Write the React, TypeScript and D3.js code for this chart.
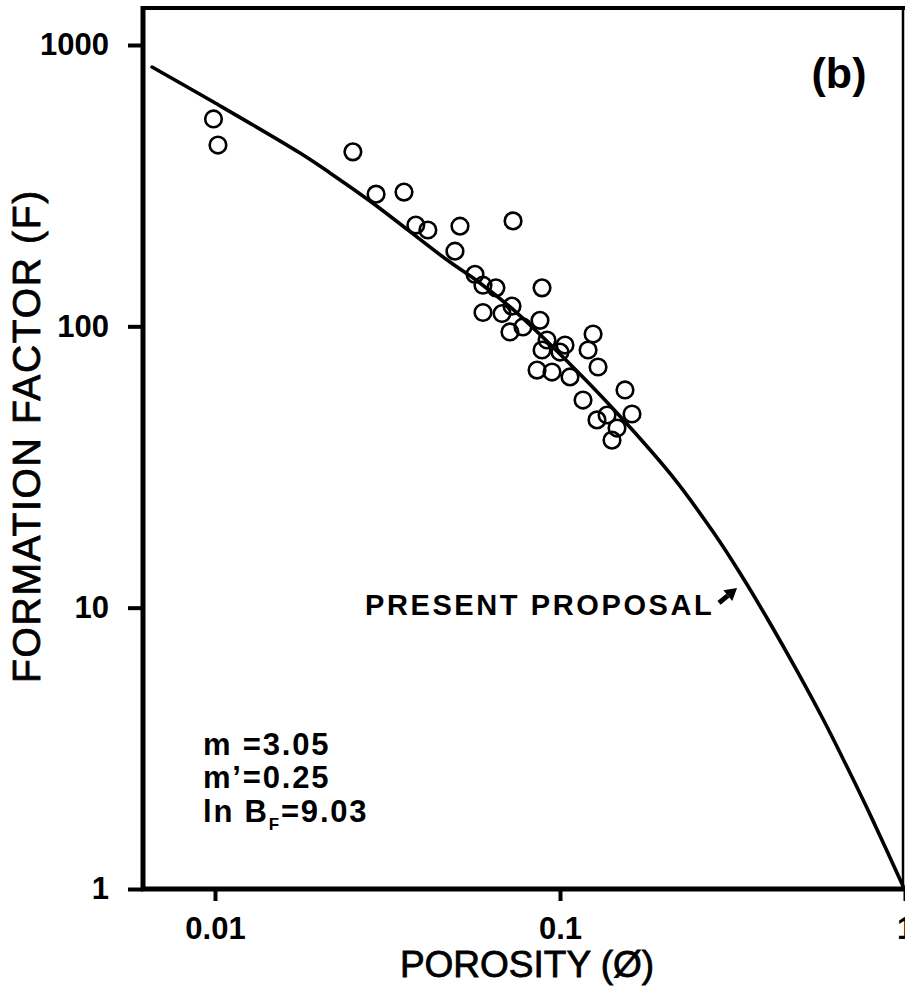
import { useEffect, useRef } from "react";
import * as d3 from "d3";

const samplePorosity = [
  0.0099, 0.0102, 0.0251, 0.0293, 0.0353, 0.0382, 0.0414, 0.0513, 0.0731,
  0.0496, 0.0567, 0.0598, 0.0652, 0.0887, 0.0598, 0.0679, 0.0726, 0.0875,
  0.0716, 0.0781, 0.0917, 0.0887, 0.1034, 0.1, 0.1247, 0.1206, 0.1289,
  0.0858, 0.0948, 0.1069, 0.1166, 0.1543, 0.1617, 0.128, 0.1369, 0.1463,
  0.1415,
];
const sampleFactor = [
  546, 441, 417, 295, 300, 229, 220, 227, 237, 185, 153, 140, 137, 137, 112,
  111, 118, 105, 95.5, 99.5, 89.4, 82.4, 85.8, 81, 93.9, 82.4, 71.7, 69.9,
  68.8, 66.1, 54.7, 59.4, 48.8, 46.5, 48.4, 43.5, 39.4,
];

// "present proposal" curve, points picked along the drawn line
const curvePorosity = [
  0.00657, 0.0099, 0.01764, 0.02154, 0.0287, 0.0471, 0.0586, 0.0751, 0.102,
  0.1463, 0.2126, 0.2777, 0.3323, 0.398, 0.4864, 0.5785, 0.67, 0.776,
  0.8868, 0.9867,
];
const curveFactor = [
  835, 627, 413, 351, 274, 172, 142.6, 111.5, 77.8, 49.2, 29.1, 18.6, 13.28,
  9.19, 5.96, 4.02, 2.81, 1.94, 1.365, 1.025,
];

const xTicks = [0.01, 0.1, 1];
const yTicks = [1, 10, 100, 1000];
const xTickLabels = ["0.01", "0.1", "1"];
const yTickLabels = ["1", "10", "100", "1000"];

// arrow pointing at the curve (tail, tip)
const arrowPorosity = [0.289, 0.326];
const arrowFactor = [10.4, 11.75];

const FONT = "'Liberation Sans', Arial, Helvetica, sans-serif";

const App = () => {
  const svgRef = useRef(null);

  useEffect(() => {
    document.body.style.margin = "0";
    d3.select(svgRef.current).selectAll("*").remove();

    const width = 905;
    const height = 997;
    const frame = { left: 143, right: 903, top: 8, bottom: 889 };

    const x = d3.scaleLog().domain([0.01, 1]).range([215, 905]);
    const y = d3.scaleLog().domain([1, 1000]).range([889, 45]);

    const svg = d3
      .select(svgRef.current)
      .attr("width", width)
      .attr("height", height)
      .style("display", "block")
      .style("background", "#fff");

    // axes (ticks + labels only, frame drawn separately)
    const yAxis = d3
      .axisLeft(y)
      .tickValues(yTicks)
      .tickSize(15)
      .tickPadding(19)
      .tickFormat((d, i) => yTickLabels[i]);
    const gy = svg
      .append("g")
      .attr("transform", `translate(${frame.left},0)`)
      .call(yAxis);

    const xAxis = d3
      .axisBottom(x)
      .tickValues(xTicks)
      .tickSize(12)
      .tickPadding(16)
      .tickFormat((d, i) => xTickLabels[i]);
    const gx = svg
      .append("g")
      .attr("transform", `translate(0,${frame.bottom})`)
      .call(xAxis);

    [gx, gy].forEach((g) => {
      g.select(".domain").remove();
      g.selectAll(".tick line").attr("stroke", "#000").attr("stroke-width", 4);
      g.selectAll(".tick text")
        .attr("fill", "#000")
        .style("font-family", FONT)
        .style("font-size", "31px")
        .style("font-weight", "bold");
    });

    // frame
    const frameG = svg.append("g").attr("stroke", "#000").attr("fill", "none");
    frameG
      .append("line")
      .attr("x1", frame.left)
      .attr("x2", frame.left)
      .attr("y1", frame.top - 2)
      .attr("y2", frame.bottom + 2)
      .attr("stroke-width", 5);
    frameG
      .append("line")
      .attr("x1", frame.left - 2)
      .attr("x2", width)
      .attr("y1", frame.bottom)
      .attr("y2", frame.bottom)
      .attr("stroke-width", 5);
    frameG
      .append("line")
      .attr("x1", frame.left)
      .attr("x2", width)
      .attr("y1", frame.top)
      .attr("y2", frame.top)
      .attr("stroke-width", 4);
    frameG
      .append("line")
      .attr("x1", frame.right)
      .attr("x2", frame.right)
      .attr("y1", frame.top)
      .attr("y2", frame.bottom)
      .attr("stroke-width", 2.5);

    // model curve
    const curveData = curvePorosity.map((p, i) => ({ p, f: curveFactor[i] }));
    const line = d3
      .line()
      .x((d) => x(d.p))
      .y((d) => y(d.f))
      .curve(d3.curveCatmullRom.alpha(0.5));
    svg
      .append("path")
      .datum(curveData)
      .attr("d", line)
      .attr("fill", "none")
      .attr("stroke", "#000")
      .attr("stroke-width", 3.6)
      .attr("stroke-linecap", "round");

    // samples
    const samples = samplePorosity.map((p, i) => ({ p, f: sampleFactor[i] }));
    svg
      .append("g")
      .selectAll("circle")
      .data(samples)
      .join("circle")
      .attr("cx", (d) => x(d.p))
      .attr("cy", (d) => y(d.f))
      .attr("r", 8.3)
      .attr("fill", "none")
      .attr("stroke", "#000")
      .attr("stroke-width", 2.6);

    // axis titles
    svg
      .append("text")
      .attr("x", 527)
      .attr("y", 977)
      .attr("text-anchor", "middle")
      .style("font-family", FONT)
      .style("font-size", "37px")
      .attr("stroke", "#000")
      .attr("stroke-width", 0.8)
      .text("POROSITY (Ø)");

    svg
      .append("text")
      .attr("transform", "translate(40,683) rotate(-90)")
      .attr("text-anchor", "start")
      .style("font-family", FONT)
      .style("font-size", "39px")
      .style("letter-spacing", "1.7px")
      .attr("stroke", "#000")
      .attr("stroke-width", 0.8)
      .text("FORMATION FACTOR (F)");

    // panel label
    svg
      .append("text")
      .attr("x", 839)
      .attr("y", 88)
      .attr("text-anchor", "middle")
      .style("font-family", FONT)
      .style("font-size", "43px")
      .style("font-weight", "bold")
      .text("(b)");

    // curve label + arrow
    svg
      .append("text")
      .attr("x", 365)
      .attr("y", 615)
      .style("font-family", FONT)
      .style("font-size", "29px")
      .style("font-weight", "bold")
      .style("letter-spacing", "2.6px")
      .text("PRESENT PROPOSAL");

    const tail = [x(arrowPorosity[0]), y(arrowFactor[0])];
    const tip = [x(arrowPorosity[1]), y(arrowFactor[1])];
    const ang = Math.atan2(tip[1] - tail[1], tip[0] - tail[0]);
    const head = 12;
    const back = [tip[0] - head * Math.cos(ang), tip[1] - head * Math.sin(ang)];
    svg
      .append("line")
      .attr("x1", tail[0])
      .attr("y1", tail[1])
      .attr("x2", back[0])
      .attr("y2", back[1])
      .attr("stroke", "#000")
      .attr("stroke-width", 5);
    const wing = 7;
    svg
      .append("polygon")
      .attr(
        "points",
        [
          tip,
          [back[0] + wing * Math.sin(ang), back[1] - wing * Math.cos(ang)],
          [back[0] - wing * Math.sin(ang), back[1] + wing * Math.cos(ang)],
        ]
          .map((pt) => pt.join(","))
          .join(" ")
      )
      .attr("fill", "#000");

    // fit parameters
    const params = svg
      .append("text")
      .style("font-family", FONT)
      .style("font-size", "31px")
      .style("font-weight", "bold")
      .style("letter-spacing", "1.8px")
      .attr("xml:space", "preserve");
    params.append("tspan").attr("x", 203).attr("y", 755).text("m =3.05");
    params.append("tspan").attr("x", 203).attr("y", 788).text("m\u2019=0.25");
    const l3 = params.append("tspan").attr("x", 203).attr("y", 822);
    l3.append("tspan").text("ln B");
    l3.append("tspan")
      .attr("dy", 8)
      .style("font-size", "17px")
      .text("F");
    l3.append("tspan").attr("dy", -8).text("=9.03");
  }, []);

  return <svg ref={svgRef}></svg>;
};

export default App;
